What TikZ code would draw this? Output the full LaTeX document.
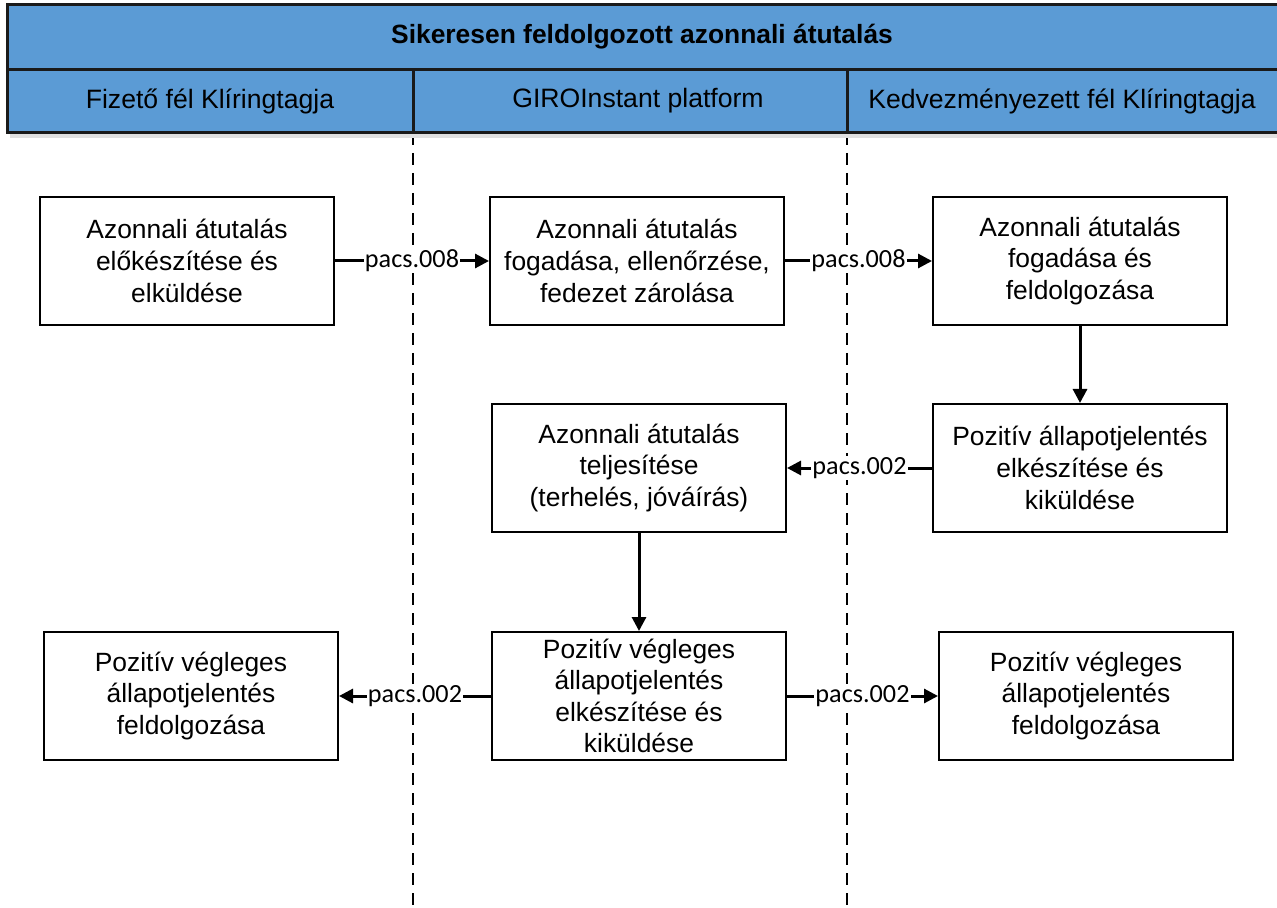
\documentclass[tikz,border=0pt]{standalone}
\usepackage{fontspec}
\setmainfont{Liberation Sans}
\newfontfamily\msgfont{Carlito}
\usetikzlibrary{arrows.meta}

\definecolor{laneblue}{RGB}{91,155,213}
\definecolor{laneline}{RGB}{26,26,26}

\tikzset{
    stepbox/.style={rectangle, draw, line width=1pt, fill=white,
        minimum width=147pt, minimum height=64pt, inner ysep=1pt,
        align=center, font=\fontsize{13.2}{15.8}\selectfont},
    msg/.style={fill=white, inner sep=0.6pt, font=\msgfont\fontsize{13.1}{15}\selectfont},
    flow/.style={-{Triangle[length=7pt,width=7pt]}, line width=1.5pt},
    lanesep/.style={dash pattern=on 6pt off 4pt, line width=0.8pt},
    lanehead/.style={font=\fontsize{13.3}{16}\selectfont}
}

\begin{document}
\begin{tikzpicture}[x=0.5pt, y=-0.5pt]
    \useasboundingbox (0,0) rectangle (1277,908);
    % swimlane separators
    \draw[lanesep] (413,133) -- (413,908);
    \draw[lanesep] (847,133) -- (847,908);
    % header
    \fill[black!12] (10,9) rectangle (1290,138);
    \draw[laneline, line width=1.5pt, fill=laneblue] (7,5) rectangle (1290,133);
    \draw[laneline, line width=1.5pt] (7,70) -- (1290,70)
        (413,70) -- (413,133) (847,70) -- (847,133);
    \node[font=\bfseries\fontsize{13.2}{16}\selectfont] (title) at (642,37) {Sikeresen feldolgozott azonnali átutalás};
    \node[lanehead] (payer) at (210,101) {Fizető fél Klíringtagja};
    \node[lanehead] (giro) at (638,101) {GIROInstant platform};
    \node[lanehead] (payee) at (1062,101) {Kedvezményezett fél Klíringtagja};

    % steps
    \node[stepbox] (prep) at (187,261) {Azonnali átutalás\\előkészítése és\\elküldése};
    \node[stepbox] (check) at (637,261) {Azonnali átutalás\\fogadása, ellenőrzése,\\fedezet zárolása};
    \node[stepbox] (recv) at (1080,261) {Azonnali átutalás\\fogadása és\\feldolgozása};
    \node[stepbox] (ack) at (1080,468) {Pozitív állapotjelentés\\elkészítése és\\kiküldése};
    \node[stepbox] (settle) at (639,468) {Azonnali átutalás\\teljesítése\\(terhelés, jóváírás)};
    \node[stepbox] (final) at (639,696) {Pozitív végleges\\állapotjelentés\\elkészítése és\\kiküldése};
    \node[stepbox] (payerfin) at (191,696) {Pozitív végleges\\állapotjelentés\\feldolgozása};
    \node[stepbox] (payeefin) at (1086,696) {Pozitív végleges\\állapotjelentés\\feldolgozása};

    % messages
    \draw[flow] (prep) -- node[msg] {pacs.008} (check);
    \draw[flow] (check) -- node[msg] {pacs.008} (recv);
    \draw[flow] (recv) -- (ack);
    \draw[flow] (ack) -- node[msg] {pacs.002} (settle);
    \draw[flow] (settle) -- (final);
    \draw[flow] (final) -- node[msg] {pacs.002} (payerfin);
    \draw[flow] (final) -- node[msg] {pacs.002} (payeefin);
\end{tikzpicture}
\end{document}
